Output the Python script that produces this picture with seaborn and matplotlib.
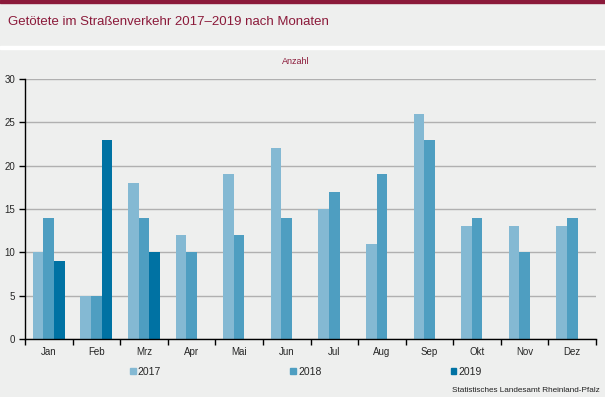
import matplotlib
matplotlib.use("Agg")
import matplotlib.pyplot as plt
import seaborn as sns
import pandas as pd
import numpy as np
from matplotlib.patches import Rectangle

months = ["Jan", "Feb", "Mrz", "Apr", "Mai", "Jun", "Jul", "Aug", "Sep", "Okt", "Nov", "Dez"]
v2017 = [10, 5, 18, 12, 19, 22, 15, 11, 26, 13, 13, 13]
v2018 = [14, 5, 14, 10, 12, 14, 17, 19, 23, 14, 10, 14]
v2019 = [9, 23, 10, np.nan, np.nan, np.nan, np.nan, np.nan, np.nan, np.nan, np.nan, np.nan]
years = ["2017", "2018", "2019"]
colors = ["#84b9d3", "#4e9ec1", "#0072a3"]

df = pd.DataFrame({
    "Monat": months * 3,
    "Jahr": sum([[y] * 12 for y in years], []),
    "Anzahl": v2017 + v2018 + v2019,
})

sns.set_theme(style="white")
plt.rcParams["font.family"] = ["Liberation Sans", "DejaVu Sans"]

bg = "#eeefee"
fig = plt.figure(figsize=(6.05, 3.97), dpi=100, facecolor=bg)
# top stripe and white separator
fig.patches.append(Rectangle((0, 1 - 3 / 397), 1, 3 / 397, transform=fig.transFigure,
                             color="#8b1a3a", zorder=0))
fig.patches.append(Rectangle((0, 1 - 49 / 397), 1, 3 / 397, transform=fig.transFigure,
                             color="white", zorder=0))

ax = fig.add_axes([25 / 605, 1 - 339 / 397, 571 / 605, 260 / 397])
ax.set_facecolor(bg)

sns.barplot(data=df, x="Monat", y="Anzahl", hue="Jahr", order=months, hue_order=years,
            palette=colors, width=0.67, saturation=1, linewidth=0, ax=ax, legend=False)

ax.set_ylim(0, 30)
ax.set_xlim(-0.5, 11.5)
ax.set_yticks(range(0, 31, 5))
ax.yaxis.grid(True, color="#b0b0b0", linewidth=1)
ax.set_axisbelow(True)
for s in ["top", "right"]:
    ax.spines[s].set_visible(False)
for s in ["left", "bottom"]:
    ax.spines[s].set_color("black")
    ax.spines[s].set_linewidth(1)
ax.set_xlabel("")
ax.set_ylabel("")
ax.tick_params(axis="y", length=4, width=1, color="black", labelsize=7, pad=3, left=True)
ax.tick_params(axis="x", which="major", length=0, labelsize=7, pad=6)
ax.set_xticks(np.arange(-0.5, 12, 1), minor=True)
ax.tick_params(axis="x", which="minor", length=4, width=1, color="black", bottom=True)

handles = [Rectangle((0, 0), 1, 1, color=c) for c in colors]
leg = fig.legend(handles, years, loc="center left", bbox_to_anchor=(130 / 605, 1 - 372 / 397),
                 ncol=3, frameon=False, fontsize=7.5, handlelength=0.55, handleheight=0.55,
                 handletextpad=0.2, columnspacing=12.4, borderaxespad=0, borderpad=0)

fig.text(8 / 605, 1 - 22 / 397, "Getötete im Straßenverkehr 2017\u20132019 nach Monaten",
         color="#8b1a3a", fontsize=9.5, va="center", ha="left")
fig.text(296 / 605, 1 - 62 / 397, "Anzahl", color="#8b1a3a", fontsize=6.5,
         va="center", ha="center")
fig.text(600 / 605, 1 - 391 / 397, "Statistisches Landesamt Rheinland-Pfalz", color="#222222",
         fontsize=5.9, va="center", ha="right")

fig.savefig("out.png", dpi=100, facecolor=bg)
